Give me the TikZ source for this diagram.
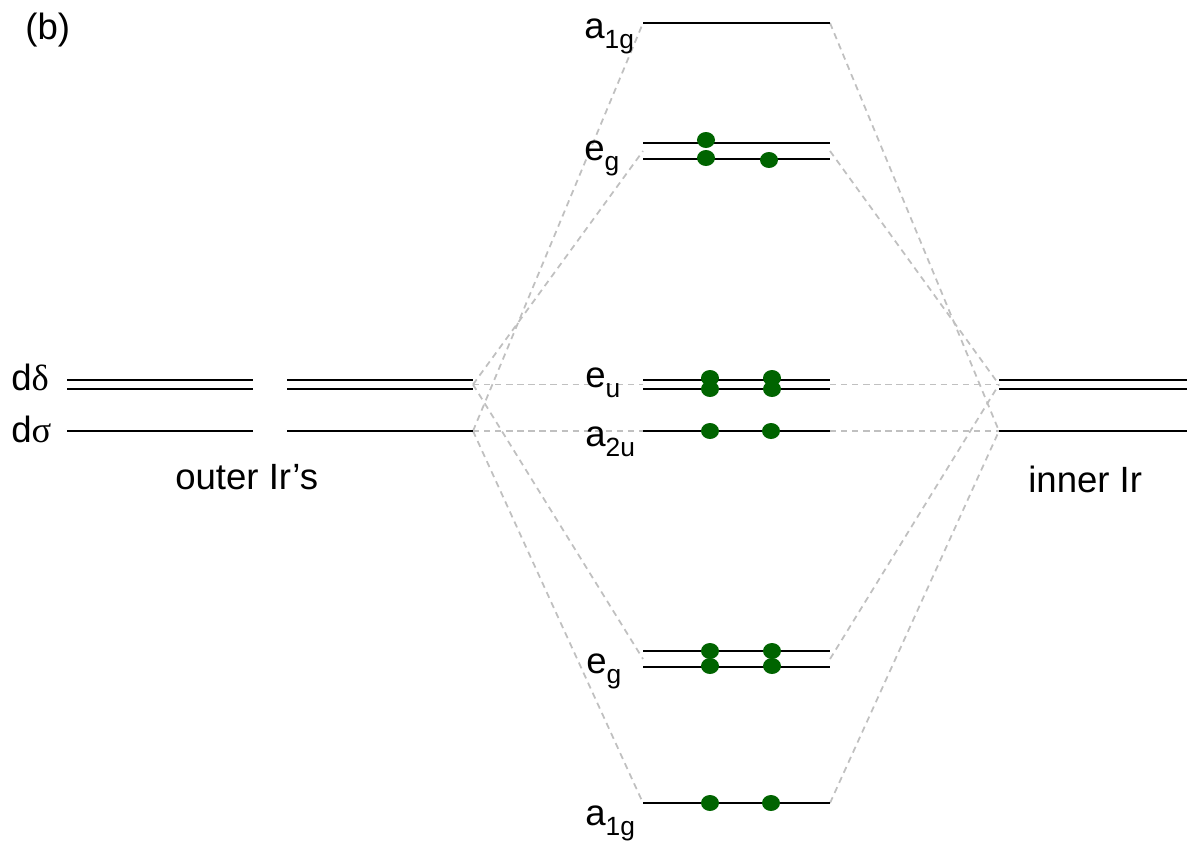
\documentclass[tikz,border=0pt]{standalone}
\usepackage{fontspec}
\setmainfont{Liberation Sans}
\newfontfamily\grk{Liberation Serif}

\definecolor{vertelec}{RGB}{0,100,0}
\definecolor{grislien}{RGB}{192,192,192}
\newcommand{\ind}[1]{\raisebox{-6pt}{\fontsize{15}{17}\selectfont #1}}

\begin{document}
\begin{tikzpicture}[x=0.02cm,y=-0.02cm,
	niveau/.style={line width=1.1pt},
	lien/.style={draw=grislien, dash pattern=on 3.6pt off 2.7pt, line width=1pt},
	elec/.style={fill=vertelec},
	every node/.style={font=\fontsize{20.8}{23}\selectfont, inner sep=0pt}]

		\useasboundingbox (0,0) rectangle (1197,842);

		% extremites des niveaux d
		\coordinate (gd) at (473,384.5);
		\coordinate (gs) at (473,431);
		\coordinate (dd) at (999,384.5);
		\coordinate (ds) at (999,431);
		\foreach \n/\y in {a1gh/23, egh/151, eu/384.5, a2u/431, egb/659, a1gb/803} {
			\coordinate (\n-g) at (643,\y);
			\coordinate (\n-d) at (830,\y);
		}

		% correlations
		\foreach \n/\c in {a1gh/s, egh/d, eu/d, a2u/s, egb/d, a1gb/s} {
			\draw [lien] (g\c) -- (\n-g);
			\draw [lien] (\n-d) -- (d\c);
		}

		% niveaux
		\foreach \y in {380,389,431} {
			\draw [niveau] (67,\y) -- (253,\y);
			\draw [niveau] (287,\y) -- (473,\y);
			\draw [niveau] (999,\y) -- (1187,\y);
		}
		\foreach \y in {23,143,159,380,389,431,651,667,803}
			\draw [niveau] (643,\y) -- (830,\y);

		% electrons
		\foreach \x/\y in {706/140, 706/158, 769/160, 710/378, 710/389, 772/378, 772/389,
			710/431, 771/431, 710/651, 710/666, 772/651, 772/666, 710/803, 771/803}
			\fill [elec] (\x,\y) ellipse (9 and 8);

		% etiquettes
		\node [anchor=base west] (titre) at (25,39) {(b)};
		\node [anchor=base west] (la1gh) at (584,38) {a\ind{1g}};
		\node [anchor=base west] (legh) at (584,160) {e\ind{g}};
		\node [anchor=base west] (leu) at (585,387) {e\ind{u}};
		\node [anchor=base west] (la2u) at (585,446) {a\ind{2u}};
		\node [anchor=base west] (legb) at (586,673) {e\ind{g}};
		\node [anchor=base west] (la1gb) at (585,825) {a\ind{1g}};
		\node [anchor=base west] (ldd) at (11,390) {d{\grk δ}};
		\node [anchor=base west] (lds) at (11,442) {d{\grk σ}};
		\node [anchor=base west] (outer) at (175,489) {outer Ir’s};
		\node [anchor=base west] (inner) at (1028,492) {inner Ir};
	\end{tikzpicture}
\end{document}
